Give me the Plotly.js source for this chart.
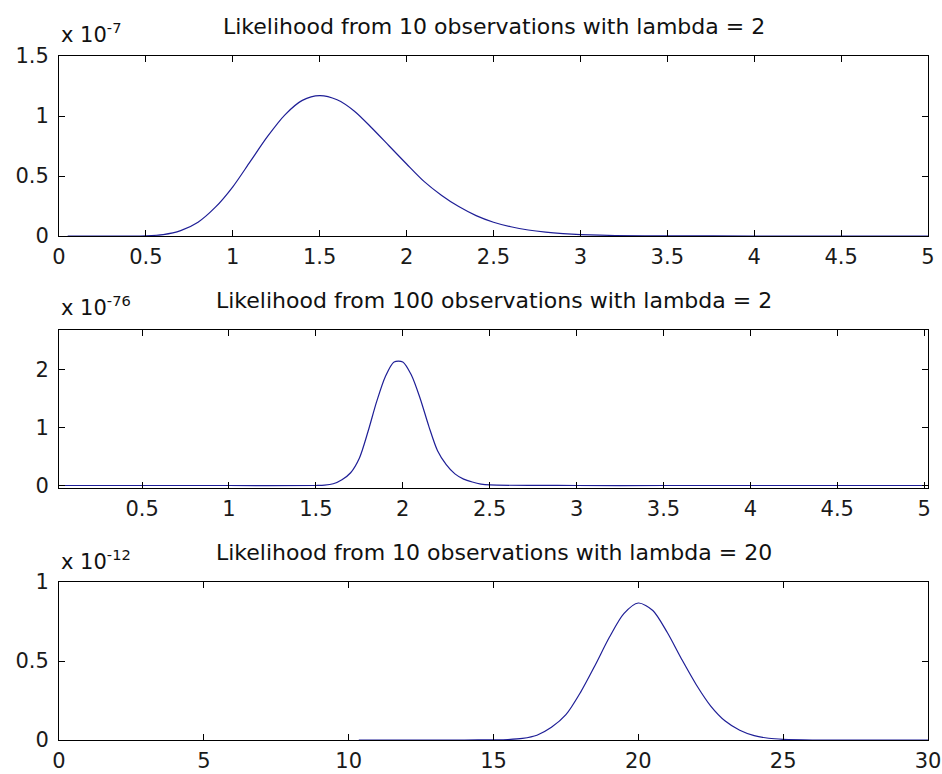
<!DOCTYPE html>
<html>
<head>
<meta charset="utf-8">
<script src="https://cdn.plot.ly/plotly-3.0.1.min.js"></script>
<style>html,body{margin:0;padding:0;background:#fff;}#chart{width:942px;height:774px;}</style>
</head>
<body>
<div id="chart"></div>
<script>
// ---- Data (y values are mantissas; the shared factor is shown above each axis) ----
const titles = [
  "Likelihood from 10 observations with lambda = 2",
  "Likelihood from 100 observations with lambda = 2",
  "Likelihood from 10 observations with lambda = 20"
];
const exponents = ["-7", "-76", "-12"];

const lambda1 = [0.05, 0.5, 0.6, 0.7, 0.8, 0.9, 1.0, 1.1, 1.2, 1.3, 1.4, 1.5, 1.6, 1.7, 1.8, 1.9, 2.0, 2.1, 2.2, 2.3, 2.4, 2.5, 2.6, 2.7, 2.8, 2.9, 3.0, 3.2, 3.5, 4.0, 4.5, 5.0];
const like1   = [0, 0.002, 0.012, 0.045, 0.115, 0.24, 0.41, 0.62, 0.83, 1.01, 1.13, 1.17, 1.135, 1.04, 0.9, 0.75, 0.6, 0.455, 0.34, 0.245, 0.17, 0.115, 0.077, 0.05, 0.032, 0.02, 0.012, 0.004, 0.001, 0, 0, 0];

const lambda2 = [0.01, 0.5, 1.0, 1.5, 1.55, 1.6, 1.65, 1.7, 1.75, 1.8, 1.85, 1.9, 1.95, 2.0, 2.05, 2.1, 2.15, 2.2, 2.25, 2.3, 2.35, 2.4, 2.45, 2.5, 3.0, 3.5, 4.0, 4.5, 5.0];
const like2   = [0, 0, 0, 0, 0.005, 0.03, 0.1, 0.22, 0.47, 0.93, 1.45, 1.88, 2.13, 2.13, 1.9, 1.5, 1.02, 0.6, 0.36, 0.2, 0.11, 0.06, 0.025, 0.01, 0, 0, 0, 0, 0];

const lambda3 = [10.35, 11, 12, 13, 14, 15, 15.5, 16, 16.5, 17, 17.5, 18, 18.5, 19, 19.5, 20, 20.5, 21, 21.5, 22, 22.5, 23, 23.5, 24, 24.5, 25, 26, 27, 28, 29, 30];
const like3   = [0, 0, 0, 0, 0, 0.001, 0.003, 0.01, 0.03, 0.08, 0.16, 0.3, 0.47, 0.65, 0.8, 0.867, 0.82, 0.68, 0.51, 0.35, 0.215, 0.12, 0.062, 0.028, 0.011, 0.004, 0, 0, 0, 0, 0];

// ---- Styling ----
const W = 942, H = 774;
const FONT = 'DejaVu Sans';
const FS = 21;
const TFS = 22;
const LINE = 'rgb(30,30,150)';
const fy = px => 1 - px / H;   // pixel row -> paper fraction

const panels = [
  {top: 56,  bottom: 236, xr: [0, 5],         xd: 0.5, yr: [0, 1.5],       yd: 0.5, titleY: 26.5, expY: 49},
  {top: 330, bottom: 488, xr: [0.022, 5.022], xd: 0.5, yr: [-0.043, 2.68], yd: 1,   titleY: 300,  expY: 322},
  {top: 582, bottom: 740, xr: [0, 30],        xd: 5,   yr: [0, 1],         yd: 0.5, titleY: 552.5, expY: 576}
];
const xs = [lambda1, lambda2, lambda3];
const ys = [like1, like2, like3];

const axBase = {
  ticks: 'inside', ticklen: 6, tickwidth: 1, tickcolor: '#000',
  showline: true, linecolor: '#000', linewidth: 1, mirror: 'ticks',
  showgrid: false, zeroline: false, fixedrange: true,
  tickfont: {family: FONT, size: FS, color: '#1a1a1a'}
};

const data = [];
const layout = {
  width: W, height: H,
  margin: {l: 59, r: 14, t: 0, b: 0, pad: 0},
  paper_bgcolor: '#ffffff', plot_bgcolor: '#ffffff',
  showlegend: false, hovermode: false,
  annotations: []
};

panels.forEach((p, i) => {
  const n = i === 0 ? '' : String(i + 1);
  layout['xaxis' + n] = Object.assign({}, axBase, {
    domain: [0, 1], anchor: 'y' + n, range: p.xr, tick0: 0, dtick: p.xd,
    ticklabelstandoff: 2
  });
  layout['yaxis' + n] = Object.assign({}, axBase, {
    domain: [fy(p.bottom), fy(p.top)], anchor: 'x' + n, range: p.yr, tick0: 0, dtick: p.yd,
    ticklabelstandoff: 5
  });
  data.push({
    x: xs[i], y: ys[i], xaxis: 'x' + n, yaxis: 'y' + n,
    type: 'scatter', mode: 'lines',
    line: {color: LINE, width: 1.2, shape: 'spline', smoothing: 0.8}
  });
  layout.annotations.push({
    xref: 'paper', yref: 'paper', x: 0.5, y: fy(p.titleY), xanchor: 'center', yanchor: 'middle',
    text: titles[i], showarrow: false, font: {family: FONT, size: TFS, color: '#111'}
  });
  layout.annotations.push({
    xref: 'paper', yref: 'paper', x: 0, y: fy(p.expY), xanchor: 'left', yanchor: 'bottom',
    text: 'x 10<sup>' + exponents[i] + '</sup>', showarrow: false,
    font: {family: FONT, size: FS, color: '#111'}
  });
});

Plotly.newPlot('chart', data, layout, {staticPlot: true, displayModeBar: false});
</script>
</body>
</html>
